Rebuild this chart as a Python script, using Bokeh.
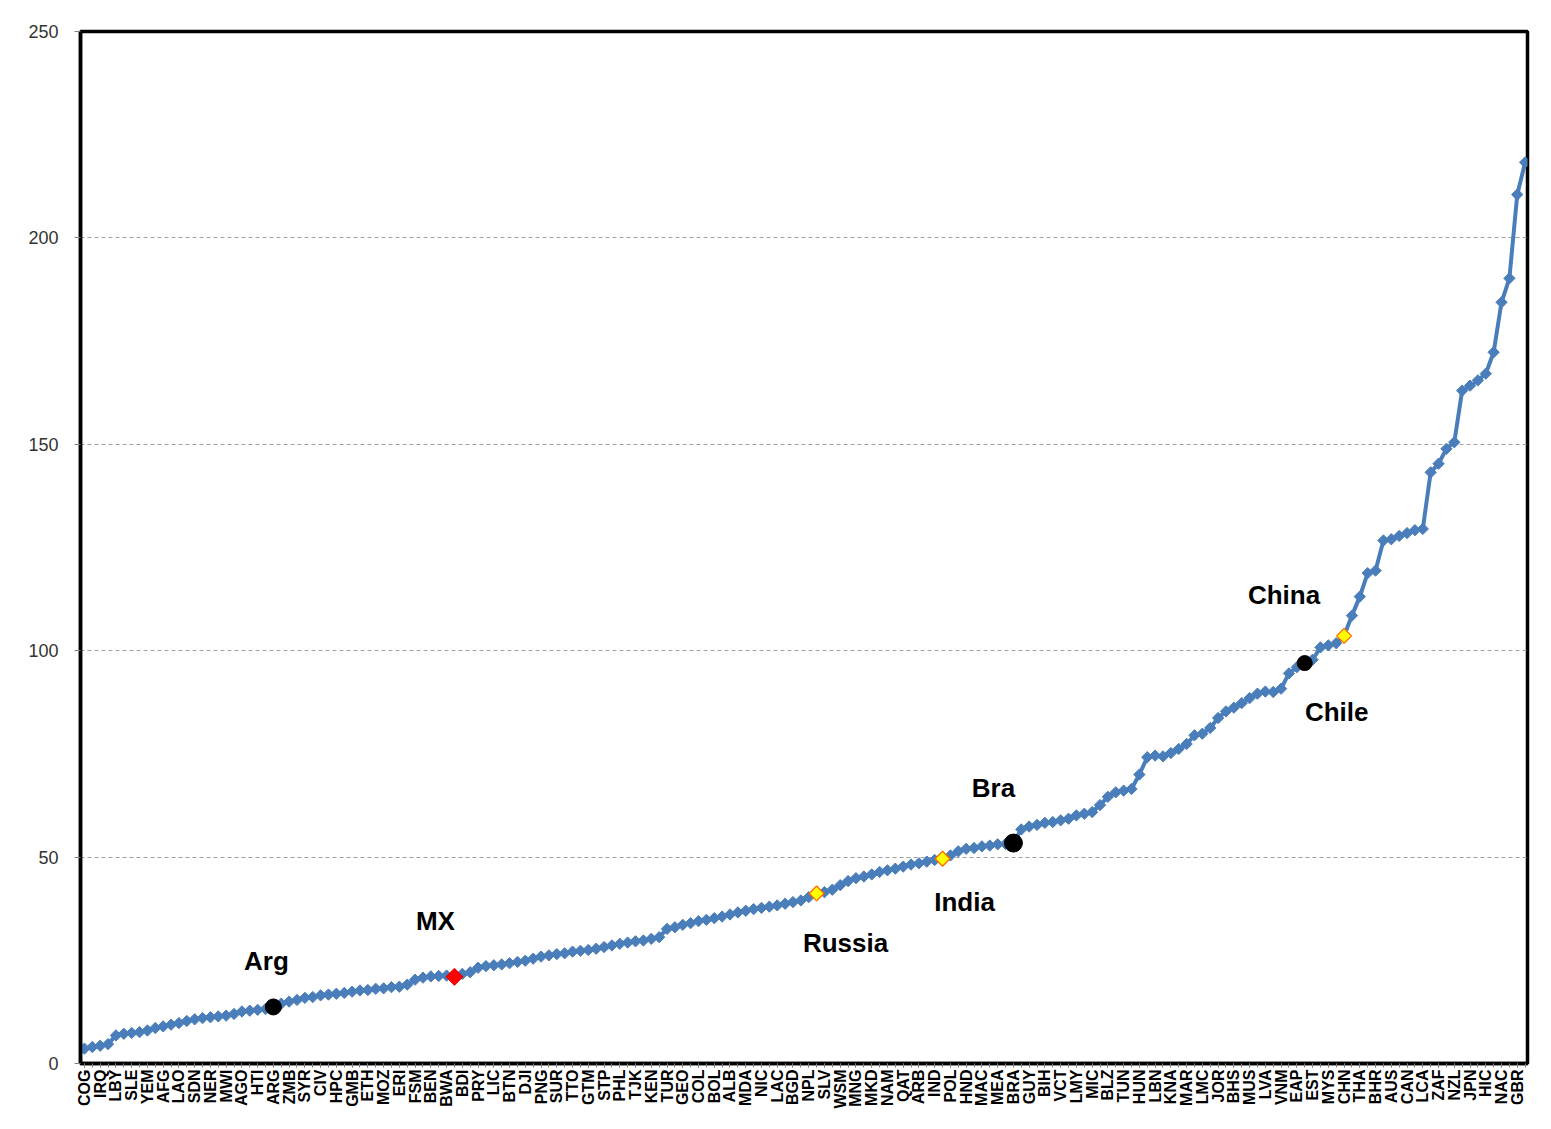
import math
from bokeh.plotting import figure
from bokeh.models import FixedTicker, Range1d, ColumnDataSource
from bokeh.core.properties import value
from bokeh.embed import file_html
from bokeh.resources import INLINE

# ---- data ----
tick_labels = ["COG", "IRQ", "LBY", "SLE", "YEM", "AFG", "LAO", "SDN", "NER", "MWI",
               "AGO", "HTI", "ARG", "ZMB", "SYR", "CIV", "HPC", "GMB", "ETH", "MOZ",
               "ERI", "FSM", "BEN", "BWA", "BDI", "PRY", "LIC", "BTN", "DJI", "PNG",
               "SUR", "TTO", "GTM", "STP", "PHL", "TJK", "KEN", "TUR", "GEO", "COL",
               "BOL", "ALB", "MDA", "NIC", "LAC", "BGD", "NPL", "SLV", "WSM", "MNG",
               "MKD", "NAM", "QAT", "ARB", "IND", "POL", "HND", "MAC", "MEA", "BRA",
               "GUY", "BIH", "VCT", "LMY", "MIC", "BLZ", "TUN", "HUN", "LBN", "KNA",
               "MAR", "LMC", "JOR", "BHS", "MUS", "LVA", "VNM", "EAP", "EST", "MYS",
               "CHN", "THA", "BHR", "AUS", "CAN", "LCA", "ZAF", "NZL", "JPN", "HIC",
               "NAC", "GBR"]

values = [3.6, 4.0, 4.3, 4.7, 6.8, 7.2, 7.4, 7.6, 8.0, 8.6,
          9.0, 9.4, 9.8, 10.3, 10.7, 11.0, 11.2, 11.4, 11.6, 12.0,
          12.6, 12.8, 13.0, 13.2, 13.7, 14.5, 15.0, 15.4, 15.9, 16.1,
          16.5, 16.7, 16.9, 17.1, 17.4, 17.7, 17.8, 18.1, 18.2, 18.5,
          18.6, 19.1, 20.3, 20.8, 21.1, 21.2, 21.3, 21.0, 21.7, 22.1,
          23.2, 23.6, 23.8, 24.0, 24.3, 24.6, 24.9, 25.4, 25.9, 26.2,
          26.5, 26.7, 27.1, 27.3, 27.5, 27.8, 28.2, 28.6, 29.0, 29.3,
          29.6, 29.8, 30.2, 30.6, 32.6, 33.0, 33.6, 34.0, 34.5, 34.8,
          35.2, 35.6, 36.1, 36.6, 37.0, 37.4, 37.7, 38.0, 38.3, 38.7,
          39.1, 39.5, 40.3, 41.2, 41.5, 42.1, 43.2, 44.2, 44.9, 45.3,
          45.8, 46.4, 46.8, 47.2, 47.7, 48.2, 48.5, 48.9, 49.3, 49.6,
          50.4, 51.4, 52.0, 52.2, 52.6, 52.8, 53.1, 53.2, 53.4, 56.7,
          57.4, 57.8, 58.3, 58.5, 58.9, 59.3, 60.1, 60.5, 60.9, 62.6,
          64.6, 65.7, 66.1, 66.5, 70.0, 74.2, 74.6, 74.4, 75.2, 76.2,
          77.4, 79.5, 79.9, 81.3, 83.7, 85.3, 86.2, 87.3, 88.5, 89.6,
          90.1, 90.0, 90.8, 94.5, 96.0, 97.0, 97.8, 100.8, 101.3, 101.8,
          103.6, 108.5, 113.1, 118.8, 119.4, 126.7, 127.0, 127.8, 128.5, 129.2,
          129.5, 143.2, 145.3, 148.9, 150.5, 163.0, 164.2, 165.5, 167.1, 172.3,
          184.4, 190.2, 210.5, 218.3]

y_ticks = [0, 50, 100, 150, 200, 250]

black_idx = [24, 118, 155]
red_idx = [47]
yellow_idx = [93, 109, 160]

ann_labels = ["Arg", "MX", "Russia", "India", "Bra", "China", "Chile"]
ann_idx = [24, 47, 93, 109, 118, 160, 155]

# ---- styling ----
BLUE = "#4A7EBB"
ann_dx = [-7, -19, 29, 22, -20, -60, 32]
ann_dy = [-46, -56, 50, 43, -55, -41, 49]
black_sizes = [16, 18, 15]

idx = list(range(len(values)))

p = figure(width=1543, height=1121, output_backend="svg", toolbar_location=None,
           x_range=Range1d(-0.5, 183.3), y_range=Range1d(0, 250),
           min_border_left=80, min_border_right=16, min_border_top=31, min_border_bottom=58)
p.background_fill_color = "white"
p.border_fill_color = "white"
p.outline_line_color = "black"
p.outline_line_width = 3.5

# axes
p.xaxis.ticker = FixedTicker(ticks=list(range(0, len(values), 2)), minor_ticks=idx)
p.xaxis.major_label_overrides = {i * 2: lab for i, lab in enumerate(tick_labels)}
p.xaxis.major_label_orientation = math.pi / 2
p.xaxis.major_label_text_font = "Liberation Sans"
p.xaxis.major_label_text_font_style = "bold"
p.xaxis.major_label_text_font_size = "16px"
p.xaxis.major_label_text_color = "black"
p.xaxis.major_label_standoff = 2
p.xaxis.axis_line_color = "black"
p.xaxis.axis_line_width = 3.5
p.xaxis.major_tick_in = 0
p.xaxis.major_tick_out = 4
p.xaxis.minor_tick_in = 0
p.xaxis.minor_tick_out = 4
p.xaxis.major_tick_line_color = "#808080"
p.xaxis.minor_tick_line_color = "#808080"

p.yaxis.ticker = FixedTicker(ticks=y_ticks)
p.yaxis.major_label_text_font = "Liberation Sans"
p.yaxis.major_label_text_font_size = "18px"
p.yaxis.major_label_text_color = "#333333"
p.yaxis.major_label_standoff = 16
p.yaxis.axis_line_color = "black"
p.yaxis.axis_line_width = 3.5
p.yaxis.major_tick_in = 0
p.yaxis.major_tick_out = 6
p.yaxis.major_tick_line_color = "#808080"
p.yaxis.minor_tick_line_color = None

p.xgrid.grid_line_color = None
p.ygrid.grid_line_color = "#A0A0A0"
p.ygrid.grid_line_dash = "4 3"
p.ygrid.grid_line_width = 1

# series
p.line(idx, values, line_color=BLUE, line_width=4)
p.scatter(idx, values, marker="square", size=8, angle=math.pi / 4,
          fill_color=BLUE, line_color=BLUE)

# highlighted points
p.scatter(red_idx, [values[i] for i in red_idx], marker="square", size=12,
          angle=math.pi / 4, fill_color="#FF0000", line_color="#E00000")
p.scatter(yellow_idx, [values[i] for i in yellow_idx], marker="square", size=10.5,
          angle=math.pi / 4, fill_color="#FFFF00", line_color="#FF6A00", line_width=1.3)
p.scatter(black_idx, [values[i] for i in black_idx], marker="circle", size=black_sizes,
          fill_color="black", line_color="black")

# annotations
src = ColumnDataSource(dict(x=ann_idx, y=[values[i] for i in ann_idx], t=ann_labels,
                            dx=ann_dx, dy=ann_dy))
p.text(x="x", y="y", text="t", x_offset="dx", y_offset="dy", source=src,
       text_font=value("Liberation Sans"), text_font_style="bold",
       text_font_size="26px", text_align="center", text_baseline="middle",
       text_color="black")

open("out.html", "w").write(file_html(p, INLINE))
